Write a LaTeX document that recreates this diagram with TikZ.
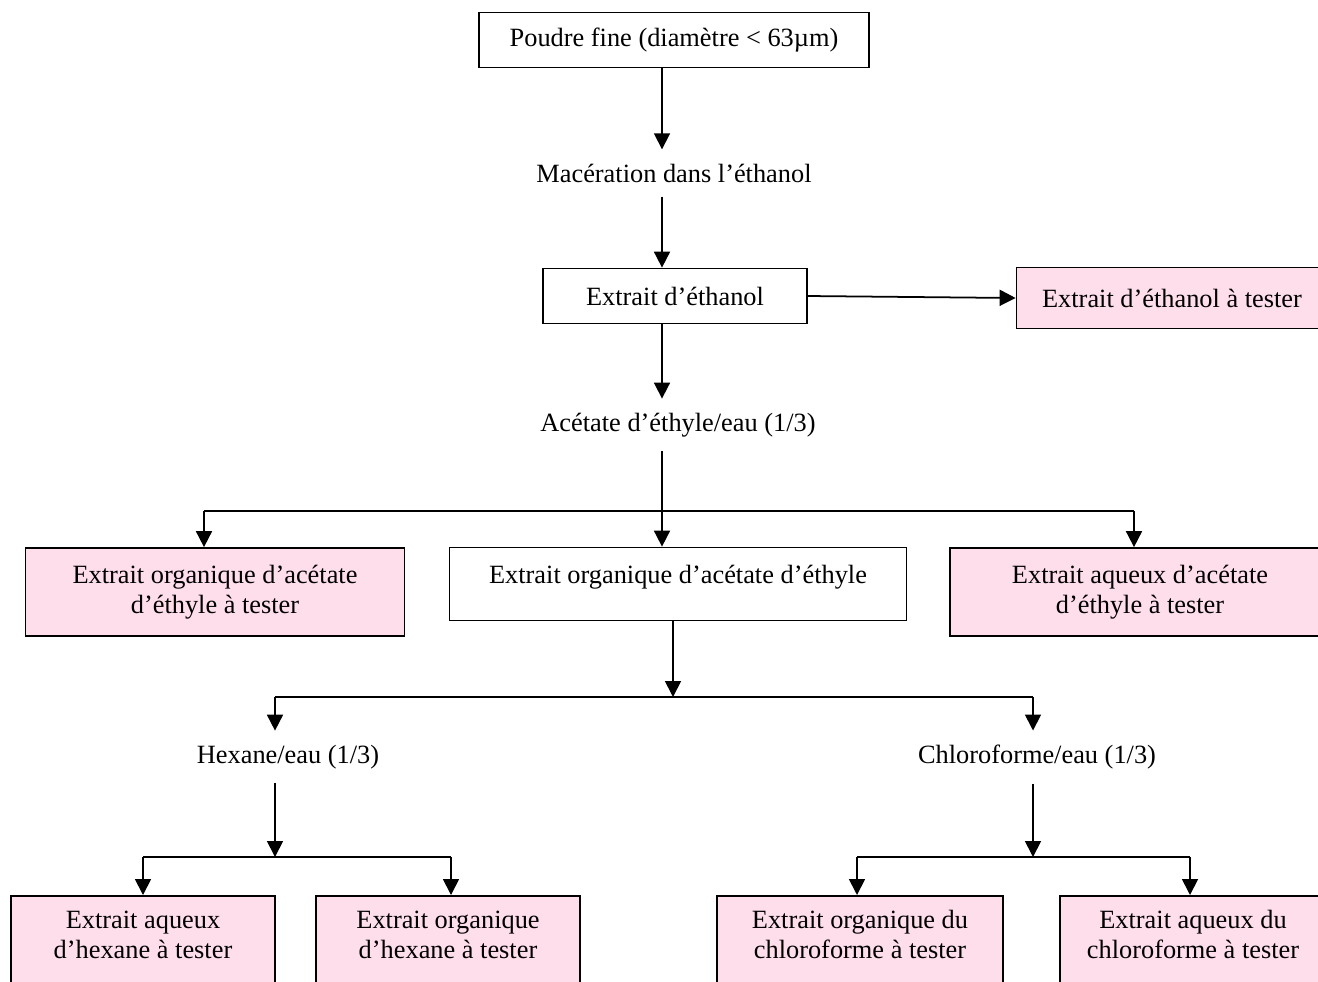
\documentclass[tikz,border=0pt]{standalone}
\usepackage{fontspec}
\setmainfont{Liberation Serif}
\usepackage{tikz}
\usetikzlibrary{arrows.meta}

\definecolor{rosetest}{RGB}{255,222,236}

\tikzset{
  ligne/.style={line width=1pt},
  fleche/.style={ligne, -{Triangle[length=0.32cm,width=0.32cm]}},
  boite/.style={draw, ligne, align=center, inner sep=2pt,
    font=\fontsize{15}{17}\selectfont},
  boitetest/.style={boite, fill=rosetest},
  bas/.style={anchor=north, minimum height=2cm, text depth=0.45cm},
  etape/.style={align=center, inner sep=8pt,
    font=\fontsize{15}{17}\selectfont},
}

\begin{document}
\begin{tikzpicture}[x=0.02cm, y=-0.02cm]
    % cadre
    \useasboundingbox (0,0) rectangle (1318,981);
    \clip (0,0) rectangle (1318,981);

    % etapes du haut
    \node[boite, minimum width=7.8cm, minimum height=1.1cm] (poudre) at (674,40) {Poudre fine (diamètre < 63µm)};
    \node[etape] (maceration) at (674,173) {Macération dans l’éthanol};
    \node[boite, minimum width=5.28cm, minimum height=1.1cm] (ethanol) at (675,296) {Extrait d’éthanol};
    \node[boitetest, minimum width=6.22cm, minimum height=1.22cm] (ethanoltest) at (1172,298) {Extrait d’éthanol à tester};
    \node[etape] (acetate) at (678,425) {Acétate d’éthyle/eau (1/3)};

    % extraits d'acetate
    \node[boitetest, minimum width=7.58cm, minimum height=1.76cm] (orgacetest) at (215,592) {Extrait organique d’acétate\\d’éthyle à tester};
    \node[boite, minimum width=9.14cm, minimum height=1.46cm, text depth=0.4cm] (orgacet) at (678,584) {Extrait organique d’acétate d’éthyle};
    \node[boitetest, minimum width=7.6cm, minimum height=1.76cm] (aqacetest) at (1140,592) {Extrait aqueux d’acétate\\d’éthyle à tester};

    % solvants
    \node[etape] (hexane) at (288,757) {Hexane/eau (1/3)};
    \node[etape] (chloro) at (1037,757) {Chloroforme/eau (1/3)};

    % extraits finaux
    \node[boitetest, bas, minimum width=5.28cm] (hexaq) at (143,895) {Extrait aqueux\\d’hexane à tester};
    \node[boitetest, bas, minimum width=5.28cm] (hexorg) at (448,895) {Extrait organique\\d’hexane à tester};
    \node[boitetest, bas, minimum width=5.72cm] (chlorg) at (860,895) {Extrait organique du\\chloroforme à tester};
    \node[boitetest, bas, minimum width=5.32cm] (chlaq) at (1193,895) {Extrait aqueux du\\chloroforme à tester};

    % points de branchement
    \coordinate (tronc) at (662,0);
    \coordinate (nA) at (204,511);
    \coordinate (nB) at (1134,511);
    \coordinate (s2) at (673,697);
    \coordinate (g2) at (275,697);
    \coordinate (d2) at (1033,697);
    \coordinate (s3) at (275,857);
    \coordinate (g3) at (143,857);
    \coordinate (d3) at (451,857);
    \coordinate (s4) at (1033,857);
    \coordinate (g4) at (857,857);
    \coordinate (d4) at (1190,857);

    % fleches
    \draw[fleche] (poudre.south -| tronc) -- (maceration.north -| tronc);
    \draw[fleche] (maceration.south -| tronc) -- (ethanol.north -| tronc);
    \draw[fleche] (ethanol.east) -- (ethanoltest.west);
    \draw[fleche] (ethanol.south -| tronc) -- (acetate.north -| tronc);
    \draw[fleche] (acetate.south -| tronc) -- (orgacet.north -| tronc);
    \draw[ligne] (nA) -- (nB);
    \draw[fleche] (nA) -- (nA |- orgacetest.north);
    \draw[fleche] (nB) -- (nB |- aqacetest.north);

    \draw[fleche] (orgacet.south -| s2) -- (s2);
    \draw[ligne] (g2) -- (d2);
    \draw[fleche] (g2) -- (g2 |- hexane.north);
    \draw[fleche] (d2) -- (d2 |- chloro.north);

    \draw[fleche] (hexane.south -| s3) -- (s3);
    \draw[ligne] (g3) -- (d3);
    \draw[fleche] (g3) -- (g3 |- hexaq.north);
    \draw[fleche] (d3) -- (d3 |- hexorg.north);

    \draw[fleche] (chloro.south -| s4) -- (s4);
    \draw[ligne] (g4) -- (d4);
    \draw[fleche] (g4) -- (g4 |- chlorg.north);
    \draw[fleche] (d4) -- (d4 |- chlaq.north);
\end{tikzpicture}
\end{document}
